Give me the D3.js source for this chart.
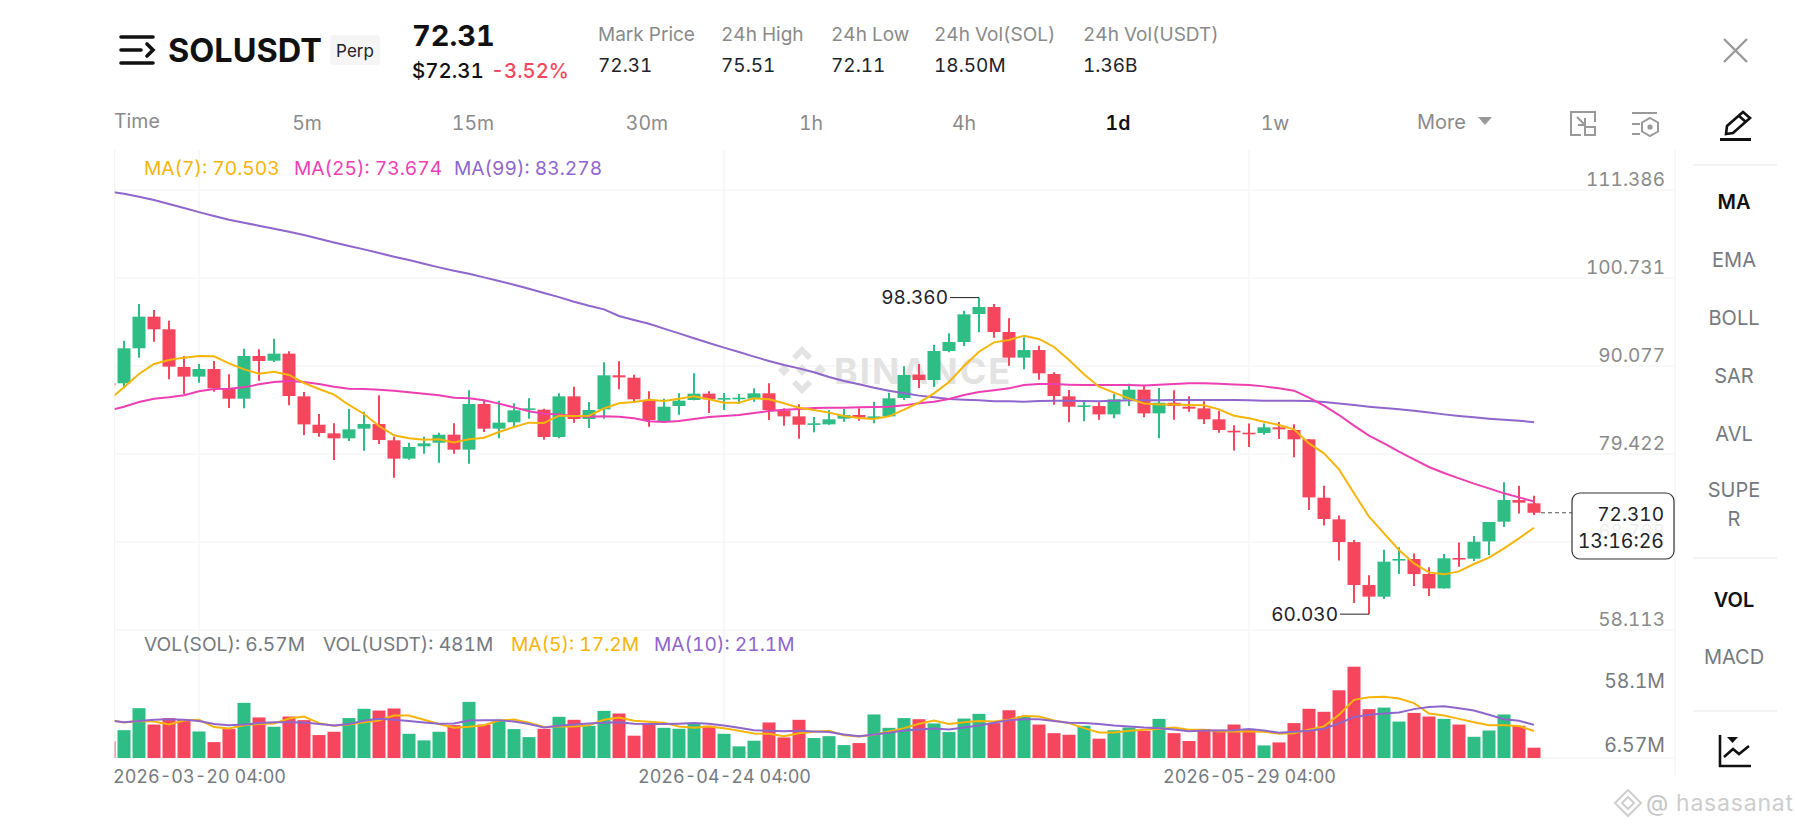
<!DOCTYPE html>
<html>
<head>
<meta charset="utf-8">
<script src="https://cdn.jsdelivr.net/npm/d3@7"></script>
<style>
  html, body { margin: 0; padding: 0; background: #fff; }
  svg { display: block; }
  text { font-family: Inter, "Noto Sans", sans-serif; font-variant-numeric: tabular-nums; }
</style>
</head>
<body>
<div id="chart"></div>
<script>
// candles, the first one is cut off by the left edge of the chart
const opens = [87.98,
  87.98,92.22,96.05,94.52,89.96,88.79,89.71,87.37,86.12,91.29,
  90.72,91.57,86.40,82.97,81.92,81.32,82.49,83.05,81.08,78.86,
  80.35,80.79,81.76,79.95,85.48,82.49,83.26,84.79,84.79,81.48,
  86.40,83.66,84.83,88.95,88.66,85.84,83.38,85.23,85.96,86.73,
  86.04,86.08,86.12,86.77,84.71,83.98,83.01,83.01,83.70,84.14,
  83.82,83.98,86.20,89.03,88.38,91.89,92.98,96.37,97.22,94.19,
  91.09,92.01,89.11,86.40,85.19,85.23,84.22,86.04,87.21,84.34,
  85.63,85.15,84.95,83.62,82.24,82.00,81.96,82.65,82.33,81.20,
  74.13,71.51,68.76,63.56,62.15,66.54,66.71,64.89,63.15,66.83,
  66.75,68.84,71.23,73.85,73.45];
const closes = [87.74,
  92.22,96.05,94.52,90.00,88.79,89.71,87.37,86.12,91.29,90.68,
  91.57,86.44,83.01,81.96,81.32,82.41,83.05,81.12,78.86,80.27,
  80.71,81.76,79.95,85.48,82.49,83.22,84.71,84.95,81.48,86.40,
  83.66,84.75,88.95,88.70,86.04,83.54,85.15,85.88,86.73,86.04,
  86.20,86.24,86.77,84.75,83.98,82.97,83.14,83.62,84.14,83.82,
  83.98,86.16,88.99,88.38,91.89,92.98,96.33,97.22,94.19,91.09,
  92.01,89.19,86.44,85.15,85.31,84.22,86.04,87.21,84.34,85.63,
  85.23,84.91,83.62,82.33,82.04,81.84,82.65,82.41,81.20,74.17,
  71.55,68.76,63.56,62.15,66.38,66.71,64.89,63.15,66.79,66.67,
  68.80,71.19,73.85,73.53,72.31];
const highs = [87.98,
  93.14,97.58,96.86,95.57,91.29,90.32,90.68,89.07,92.18,92.10,
  93.39,91.85,86.93,84.27,83.14,84.87,84.55,86.53,81.52,80.79,
  81.52,82.00,83.14,87.13,85.88,85.88,85.56,86.16,84.91,86.77,
  87.57,85.72,90.52,90.64,89.03,87.01,86.12,86.77,89.19,87.01,
  86.81,86.69,87.37,87.98,84.95,85.44,83.90,84.75,84.87,84.95,
  85.76,86.85,90.04,90.32,92.66,94.03,96.78,98.36,97.58,95.85,
  93.55,92.54,89.31,87.17,85.72,85.68,86.72,87.94,87.65,87.41,
  87.13,86.40,85.80,84.67,82.89,83.13,83.13,83.29,83.01,81.20,
  75.59,71.99,69.01,64.73,67.84,68.12,67.39,65.70,67.31,68.72,
  69.49,71.19,75.99,75.59,74.37];
const lows = [87.74,
  87.37,91.09,93.02,88.46,86.69,88.06,86.97,84.99,84.95,88.30,
  90.56,85.31,81.72,81.52,78.70,81.00,79.83,80.63,76.56,78.74,
  79.46,78.37,79.46,78.25,82.09,81.32,82.69,83.70,81.16,81.32,
  83.22,82.57,83.70,87.25,85.76,82.73,83.30,84.18,85.92,84.39,
  84.75,85.48,85.76,83.54,82.85,81.28,82.05,82.97,83.34,83.46,
  83.14,83.94,85.96,87.41,87.53,91.73,92.50,94.15,93.51,90.12,
  89.67,88.42,85.39,83.26,83.38,83.58,83.74,85.23,83.86,81.32,
  83.58,84.55,83.05,82.00,79.86,80.27,81.76,81.24,79.02,72.64,
  70.78,66.54,61.38,60.03,61.86,64.89,63.44,62.23,63.15,65.78,
  66.46,67.19,70.58,72.23,72.03];

// price moving averages
const ma7 = [85.96,
  87.49,89.11,90.32,90.80,91.09,91.29,91.25,90.40,89.67,89.15,
  89.39,88.99,88.02,87.29,86.61,85.36,84.27,82.81,81.68,81.32,
  81.16,81.20,80.83,81.20,81.40,82.09,82.69,83.22,83.18,84.06,
  84.02,84.06,84.95,85.56,85.72,86.00,85.84,86.12,86.40,86.04,
  85.64,85.64,86.16,86.04,85.56,85.03,84.75,84.43,84.02,83.78,
  83.66,83.98,84.79,85.64,86.77,88.14,90.08,91.81,92.94,93.22,
  93.75,93.35,92.38,90.80,89.07,87.57,86.85,86.16,85.55,85.43,
  85.43,85.35,85.31,84.83,84.06,83.74,83.33,82.93,82.41,80.71,
  79.50,77.56,74.66,71.83,69.81,67.80,66.18,65.09,64.85,65.21,
  66.10,66.87,68.00,69.21,70.50];
const ma25 = [84.67,
  85.15,85.72,86.12,86.28,86.53,87.01,87.29,87.33,87.49,87.86,
  88.14,88.26,88.14,87.90,87.57,87.33,87.29,87.21,87.09,86.89,
  86.73,86.53,86.24,86.16,85.92,85.52,85.07,84.59,84.31,84.22,
  84.02,83.94,83.98,83.94,83.74,83.38,83.30,83.42,83.66,83.90,
  84.02,84.14,84.39,84.63,84.79,84.87,84.99,85.03,85.03,85.07,
  85.11,85.15,85.31,85.56,85.76,86.08,86.57,86.93,87.13,87.37,
  87.78,87.90,87.90,87.82,87.78,87.77,87.77,87.77,87.73,87.81,
  87.89,87.98,87.98,87.94,87.85,87.77,87.61,87.37,87.09,86.24,
  85.27,84.14,82.85,81.64,80.71,79.70,78.77,77.85,77.12,76.47,
  75.83,75.26,74.66,74.17,73.67];
const ma99 = [111.18,
  110.94,110.57,110.17,109.68,109.20,108.71,108.23,107.79,107.43,107.06,
  106.70,106.34,105.93,105.49,105.04,104.60,104.20,103.75,103.31,102.90,
  102.46,102.02,101.61,101.25,100.81,100.36,99.92,99.43,98.91,98.42,
  97.86,97.37,96.93,96.13,95.65,95.20,94.60,94.03,93.43,92.86,
  92.30,91.77,91.21,90.68,90.20,89.79,89.31,88.75,88.26,87.86,
  87.45,87.09,86.77,86.49,86.28,86.08,86.00,85.92,85.80,85.80,
  85.76,85.84,85.88,85.88,85.84,85.80,85.88,85.92,85.92,85.92,
  85.96,85.96,85.96,85.96,85.96,85.92,85.88,85.88,85.88,85.84,
  85.72,85.55,85.35,85.15,84.99,84.83,84.67,84.46,84.22,84.02,
  83.86,83.70,83.58,83.46,83.28];

// volume in millions SOL and its averages
const vols = [10.6,
  17.7,31.7,21.3,25.4,24.3,16.9,10.1,18.4,35.1,25.8,
  19.9,26.4,24.1,14.6,16.7,25.4,31.3,30.2,31.5,15.4,
  11.2,16.7,20.9,35.7,21.3,24.3,18.4,13.3,18.6,26.2,
  24.3,20.5,30.0,28.3,14.2,21.6,19.2,18.6,21.8,20.5,
  15.4,7.4,11.0,22.6,13.1,24.3,12.7,13.9,8.2,9.5,
  27.7,19.2,25.4,24.7,22.0,16.5,25.1,28.1,22.2,30.4,
  26.6,21.3,15.8,14.8,20.5,12.3,17.7,19.4,17.3,24.9,
  15.8,10.8,18.4,18.0,21.3,18.0,8.0,9.9,22.2,31.3,
  29.4,43.1,58.1,31.1,32.1,23.2,28.7,26.4,24.9,21.3,
  13.5,17.5,27.7,20.5,6.57];
const volMa5 = [24.3,
  22.6,23.5,23.2,21.3,23.9,24.3,19.7,18.8,20.9,21.6,
  22.0,25.1,26.4,22.2,20.5,21.3,22.8,23.9,27.0,27.0,
  24.3,21.6,19.2,19.9,20.9,23.9,24.5,22.4,19.7,20.1,
  20.1,20.9,24.3,25.8,23.7,23.0,22.4,20.1,19.2,20.1,
  19.0,17.3,15.6,15.4,13.9,15.8,16.7,17.3,14.4,13.7,
  14.8,16.9,19.0,21.8,23.9,21.6,22.8,23.5,23.2,24.3,
  26.8,26.4,23.9,22.2,19.0,16.3,16.3,17.3,18.0,18.4,
  19.4,18.0,18.0,16.9,16.9,16.9,16.7,15.4,15.8,18.0,
  20.1,27.5,37.0,38.7,38.9,37.8,34.9,28.3,27.0,24.9,
  22.8,20.9,20.9,20.3,17.2];
const volMa10 = [23.9,
  22.8,23.5,24.3,24.7,24.3,23.5,21.6,20.9,21.3,22.2,
  22.8,22.8,22.6,21.6,20.7,21.6,23.7,24.9,24.3,23.5,
  22.6,21.8,22.0,23.9,24.1,24.1,23.2,21.6,19.4,20.5,
  21.3,22.0,22.4,22.8,21.8,21.6,21.6,21.8,22.2,21.8,
  20.7,19.2,17.7,17.3,17.1,17.3,16.9,16.5,15.0,13.9,
  15.0,16.1,17.5,18.2,18.8,18.2,19.4,20.7,22.4,24.1,
  24.7,24.7,23.5,22.4,22.2,21.6,20.7,20.1,19.4,19.0,
  18.2,17.1,17.5,17.5,17.7,18.4,17.5,16.1,16.7,17.3,
  18.6,22.0,26.0,27.5,28.3,28.9,31.1,32.5,33.0,31.7,
  30.2,27.5,24.7,23.7,21.1];

const priceTicks = [111.386, 100.731, 90.077, 79.422, 68.768, 58.113];
const dateTickIdx = [5, 40, 75];
const dateTickLabels = ["2026-03-20 04:00", "2026-04-24 04:00", "2026-05-29 04:00"];
const statNames = ["Mark Price", "24h High", "24h Low", "24h Vol(SOL)", "24h Vol(USDT)"];
const statValues = ["72.31", "75.51", "72.11", "18.50M", "1.36B"];
const tabNames = ["5m", "15m", "30m", "1h", "4h", "1d", "1w"];
const sideNames = ["MA", "EMA", "BOLL", "SAR", "AVL"];

const W = 1795, H = 828;
const plotLeft = 114.7, plotRight = 1675, plotTop = 150, priceBottom = 630, volBottom = 758;
const green = "#2ebd85", red = "#f6465d", gold = "#f5b50a", pink = "#ee3fb2", purple = "#8f66cc";
const grey = "#757a80", lightGrey = "#8a8a8a", gridColor = "#f3f3f3";

const svg = d3.select("#chart").append("svg").attr("width", W).attr("height", H);
const idx = d3.range(-1, 95);   // candle numbers, 0 is the first whole candle

const x = d3.scaleLinear().domain([-0.62, 103.4]).range([plotLeft, plotRight]);
const y = d3.scaleLinear().domain([58.113, 111.386]).range([priceBottom, 190]);
const yVol = d3.scaleLinear().domain([0, 58.1]).range([volBottom, 666.7]);

function label(g, px, py, txt, size, fill, anchor, weight) {
    return g.append("text").attr("x", px).attr("y", py).text(txt)
        .attr("font-size", size).attr("fill", fill)
        .attr("text-anchor", anchor || "start")
        .attr("font-weight", weight || 400);
}

svg.append("defs").append("clipPath").attr("id", "plot")
    .append("rect").attr("x", plotLeft).attr("y", plotTop).attr("width", plotRight - plotLeft).attr("height", volBottom - plotTop);

// grid lines
const grid = svg.append("g").attr("stroke", gridColor).attr("stroke-width", 1.2);
grid.selectAll(".h").data(priceTicks).join("line").attr("class", "h")
    .attr("x1", plotLeft).attr("x2", plotRight).attr("y1", d => y(d)).attr("y2", d => y(d));
grid.selectAll(".v").data(dateTickIdx).join("line").attr("class", "v")
    .attr("x1", d => x(d)).attr("x2", d => x(d)).attr("y1", plotTop).attr("y2", volBottom);
grid.append("line").attr("x1", plotLeft).attr("x2", plotLeft).attr("y1", plotTop).attr("y2", volBottom);
grid.append("line").attr("x1", plotLeft).attr("x2", plotRight).attr("y1", volBottom).attr("y2", volBottom);
grid.append("line").attr("x1", plotRight).attr("x2", plotRight).attr("y1", plotTop).attr("y2", 775);

// BINANCE mark behind the candles
const logo = svg.append("g").attr("transform", "translate(802,370)").attr("fill", "#e3e3e3");
logo.append("path").attr("d", "M0,-24L10,-14L6,-10L0,-16L-6,-10L-10,-14Z M0,24L10,14L6,10L0,16L-6,10L-10,14Z M-24,0L-18,-6L-12,0L-18,6Z M24,0L18,-6L12,0L18,6Z M0,-6L6,0L0,6L-6,0Z");
label(svg, 834, 384, "BINANCE", 36, "#e3e3e3", "start", 700).attr("letter-spacing", 2);

// candles
const plot = svg.append("g").attr("clip-path", "url(#plot)");
const isUp = i => closes[i + 1] >= opens[i + 1];
const color = i => isUp(i) ? green : red;

plot.append("g").selectAll("line").data(idx).join("line")
    .attr("x1", d => x(d)).attr("x2", d => x(d))
    .attr("y1", d => y(highs[d + 1])).attr("y2", d => y(lows[d + 1]))
    .attr("stroke", color).attr("stroke-width", 2);
plot.append("g").selectAll("rect").data(idx).join("rect")
    .attr("x", d => x(d) - 6.5).attr("width", 13)
    .attr("y", d => y(Math.max(opens[d + 1], closes[d + 1])))
    .attr("height", d => Math.max(1.6, Math.abs(y(opens[d + 1]) - y(closes[d + 1]))))
    .attr("fill", color);

// volume bars
plot.append("g").selectAll("rect").data(idx).join("rect")
    .attr("x", d => x(d) - 6.5).attr("width", 13)
    .attr("y", d => yVol(vols[d + 1]))
    .attr("height", d => volBottom - yVol(vols[d + 1]))
    .attr("fill", color);

// moving average lines
const priceLine = d3.line().x((d, i) => x(i - 1)).y(d => y(d));
const volLine = d3.line().x((d, i) => x(i - 1)).y(d => yVol(d));
[[ma99, purple], [ma25, pink], [ma7, gold]].forEach(([s, c]) => {
    plot.append("path").attr("d", priceLine(s)).attr("fill", "none").attr("stroke", c).attr("stroke-width", 2);
});
[[volMa5, gold], [volMa10, purple]].forEach(([s, c]) => {
    plot.append("path").attr("d", volLine(s)).attr("fill", "none").attr("stroke", c).attr("stroke-width", 2);
});

// axes
const priceAxis = svg.append("g").attr("transform", "translate(1665,0)")
    .call(d3.axisLeft(y).tickValues(priceTicks).tickSize(0).tickPadding(0).tickFormat(d3.format(".3f")));
priceAxis.select(".domain").remove();
priceAxis.selectAll("text").attr("dy", "-0.25em").attr("font-size", 19).attr("fill", lightGrey)
    .style("font-family", "Inter");

const dateAxis = svg.append("g").attr("transform", "translate(0,758)")
    .call(d3.axisBottom(x).tickValues(dateTickIdx).tickSize(0).tickPadding(0).tickFormat((d, i) => dateTickLabels[i]));
dateAxis.select(".domain").remove();
dateAxis.selectAll("text").attr("y", 25).attr("dy", 0).attr("font-size", 18).attr("fill", grey)
    .style("font-family", "Inter");

label(svg, 1665, 688, "58.1M", 19.5, grey, "end");
label(svg, 1665, 752, "6.57M", 19.5, grey, "end");

// legends
[["MA(7): 70.503", 144, gold], ["MA(25): 73.674", 294, pink], ["MA(99): 83.278", 454, purple]]
    .forEach(l => label(svg, l[1], 175, l[0], 19.2, l[2]));
[["VOL(SOL): 6.57M", 144, grey], ["VOL(USDT): 481M", 323, grey], ["MA(5): 17.2M", 511, gold], ["MA(10): 21.1M", 654, purple]]
    .forEach(l => label(svg, l[1], 651, l[0], 19.2, l[2]));

// high and low markers
function marker(i, value, txt) {
    const m = svg.append("g");
    const tx = x(i) - 30;
    m.append("path").attr("fill", "none").attr("stroke", "#222").attr("stroke-width", 1)
        .attr("d", d3.line()([[tx + 1, y(value)], [x(i), y(value)]]));
    label(m, tx - 1, y(value) + 6.5, txt, 19, "#1e2329", "end");
}
marker(57, 98.36, "98.360");
marker(83, 60.03, "60.030");

// current price tag
svg.append("line").attr("x1", x(94) + 7).attr("x2", 1572).attr("y1", y(72.31)).attr("y2", y(72.31))
    .attr("stroke", "#555").attr("stroke-width", 1.2).attr("stroke-dasharray", "4,3");
svg.append("rect").attr("x", 1572).attr("y", 493).attr("width", 102).attr("height", 66).attr("rx", 8)
    .attr("fill", "rgba(255,255,255,0.86)").attr("stroke", "#333").attr("stroke-width", 1.2);
label(svg, 1664, 521, "72.310", 19, "#1e2329", "end");
label(svg, 1664, 548, "13:16:26", 19.5, "#1e2329", "end");

// header
const menu = svg.append("g").attr("stroke", "#111").attr("stroke-width", 3.6).attr("fill", "none").attr("stroke-linecap", "round");
menu.append("path").attr("d", "M121,37H153 M121,50H141 M121,63H153 M147,44L153,50L147,56");
label(svg, 168, 62, "SOLUSDT", 32.5, "#111", "start", 700);
svg.append("rect").attr("x", 330).attr("y", 35).attr("width", 50).attr("height", 30).attr("rx", 4).attr("fill", "#f5f5f5");
label(svg, 355, 57, "Perp", 17, "#1e2329", "middle");
label(svg, 412, 46, "72.31", 29, "#111", "start", 700);
label(svg, 412, 78, "$72.31", 20.5, "#111", "start", 500);
label(svg, 491, 78, "-3.52%", 20.2, red, "start", 500);
[598, 721, 831, 934, 1083].forEach((px, i) => {
    label(svg, px, 41, statNames[i], 19, lightGrey);
    label(svg, px, 72, statValues[i], 19, "#1e2329");
});

// timeframe tabs
label(svg, 114, 128, "Time", 19.5, lightGrey);
[307, 473, 647, 811, 964, 1118, 1275].forEach((px, i) => {
    const on = tabNames[i] === "1d";
    label(svg, px, 130, tabNames[i], 19.5, on ? "#111" : lightGrey, "middle", on ? 600 : 400);
});
label(svg, 1417, 129, "More", 20, lightGrey);
svg.append("path").attr("d", "M1478,117H1492L1485,125Z").attr("fill", "#999");

// small grey icons
const ic = svg.append("g").attr("fill", "none").attr("stroke", "#999").attr("stroke-width", 2);
ic.append("path").attr("d", "M1595,122V112H1571V135H1581 M1577,117L1585,125 M1585,118V125H1578");
ic.append("rect").attr("x", 1585).attr("y", 127).attr("width", 10).attr("height", 8);
ic.append("path").attr("d", "M1632,113H1657 M1632,124H1640 M1632,134H1640 M1650,118L1658,122.5V131.5L1650,136L1642,131.5V122.5Z");
ic.append("circle").attr("cx", 1650).attr("cy", 127).attr("r", 1.6).attr("fill", "#999");
svg.append("path").attr("d", "M1724,39L1747,62 M1747,39L1724,62").attr("stroke", "#999").attr("stroke-width", 2.4);

// side panel
const pen = svg.append("g").attr("fill", "none").attr("stroke", "#111").attr("stroke-width", 2.6);
pen.append("path").attr("d", "M1726,134L1727,126L1743,112L1750,118L1733,133Z M1739,116L1746,122");
pen.append("path").attr("d", "M1720,139.5H1751").attr("stroke-width", 3);
[165, 558, 711].forEach(py => svg.append("line").attr("x1", 1693).attr("x2", 1777).attr("y1", py).attr("y2", py)
    .attr("stroke", "#efefef").attr("stroke-width", 1.6));
sideNames.forEach((n, i) => {
    label(svg, 1734, [209, 267, 325, 383, 441][i], n, 20, i === 0 ? "#111" : grey, "middle", i === 0 ? 600 : 400);
});
label(svg, 1734, 497, "SUPE", 20, grey, "middle");
label(svg, 1734, 526, "R", 20, grey, "middle");
label(svg, 1734, 607, "VOL", 20, "#111", "middle", 600);
label(svg, 1734, 664, "MACD", 20, grey, "middle");
const chartIcon = svg.append("g").attr("fill", "none").attr("stroke", "#111").attr("stroke-width", 2.6);
chartIcon.append("path").attr("d", "M1720,735V766H1751 M1724,757L1733,749L1739,754L1749,746");
svg.append("path").attr("d", "M1727,737H1738L1732.5,743Z").attr("fill", "#111");

// author mark
const wm = svg.append("g").attr("fill", "none").attr("stroke", "#cfcfcf").attr("stroke-width", 2);
wm.append("path").attr("d", "M1628,790L1641,803L1628,816L1615,803Z M1628,797L1634,803L1628,809L1622,803Z");
label(svg, 1646, 811, "@", 23, "#c6c6c6");
label(svg, 1676, 811, "hasasanat", 23, "#cdcdcd").attr("letter-spacing", 0.8);
</script>
</body>
</html>
